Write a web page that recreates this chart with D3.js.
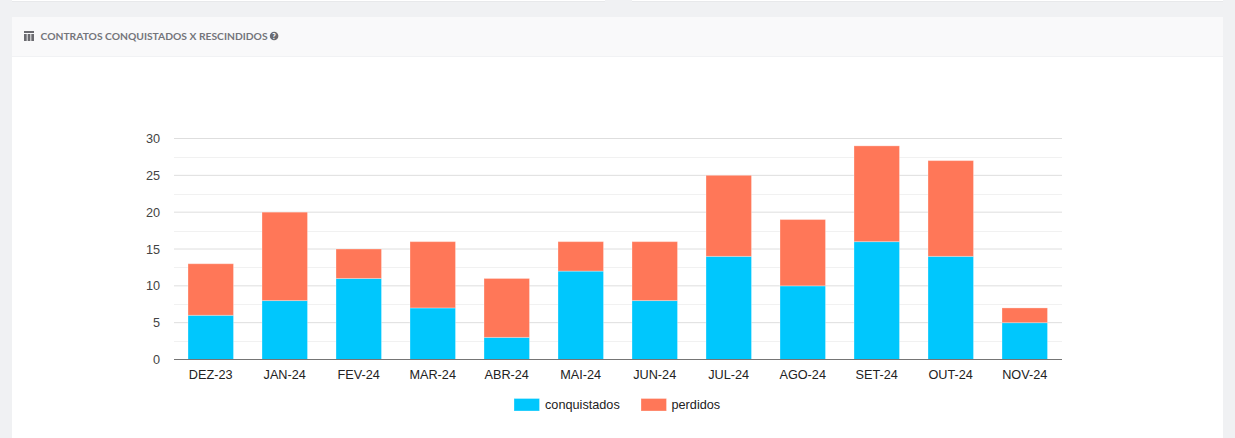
<!DOCTYPE html>
<html><head><meta charset="utf-8">
<script src="https://cdn.jsdelivr.net/npm/d3@7/dist/d3.min.js"></script>
<style>html,body{margin:0;padding:0;background:#f0f1f3;overflow:hidden}svg{display:block}</style>
</head><body><svg id="c" width="1235" height="438"></svg>
<script>
const categories=["DEZ-23","JAN-24","FEV-24","MAR-24","ABR-24","MAI-24","JUN-24","JUL-24","AGO-24","SET-24","OUT-24","NOV-24"];
const conquistados=[6,8,11,7,3,12,8,14,10,16,14,5];
const perdidos=[7,12,4,9,8,4,8,11,9,13,13,2];
const seriesNames=["conquistados","perdidos"];
const seriesColors=["#00c7fd","#ff7758"];
const majorTicks=[0,5,10,15,20,25,30];
const minorTicks=[2.5,7.5,12.5,17.5,22.5,27.5];
const titleText="CONTRATOS CONQUISTADOS X RESCINDIDOS";

const svg=d3.select("#c");
svg.append("rect").attr("x",12).attr("y",-10).attr("width",593).attr("height",11).attr("fill","#fff");
svg.append("rect").attr("x",12).attr("y",1).attr("width",593).attr("height",1).attr("fill","#e8e9eb");
svg.append("rect").attr("x",632).attr("y",-10).attr("width",591).attr("height",11).attr("fill","#fff");
svg.append("rect").attr("x",632).attr("y",1).attr("width",591).attr("height",1).attr("fill","#e8e9eb");
svg.append("rect").attr("x",12).attr("y",17).attr("width",1211).attr("height",430).attr("fill","#fff");
svg.append("rect").attr("x",12).attr("y",17).attr("width",1211).attr("height",39).attr("fill","#f9f9fa");
svg.append("rect").attr("x",12).attr("y",56).attr("width",1211).attr("height",1).attr("fill","#f1f2f4");
const ic=svg.append("g").attr("fill","#6b6b70");
[[24,31,10,2],[24,34,2.7,7],[27.65,34,2.7,7],[31.3,34,2.7,7]].forEach(r=>ic.append("rect").attr("x",r[0]).attr("y",r[1]).attr("width",r[2]).attr("height",r[3]));
const title=svg.append("text").attr("x",40.5).attr("y",39.5).attr("font-family","Lato").attr("font-size",10.3).attr("font-weight",700).attr("fill","#74757a").text(titleText);
const tw=title.node().getComputedTextLength();
const hx=40.5+tw+6.5;
svg.append("circle").attr("cx",hx).attr("cy",36).attr("r",4.3).attr("fill","#6b6c72");
svg.append("text").attr("x",hx).attr("y",38.7).attr("text-anchor","middle").attr("font-family","Lato").attr("font-size",7.5).attr("font-weight",900).attr("fill","#fff").text("?");

const x=d3.scaleBand().domain(categories).range([174,1062]).paddingInner(28/74).paddingOuter(14/74);
const y=d3.scaleLinear().domain([0,30]).range([359.5,138.5]);
const grid=svg.append("g");
minorTicks.forEach(t=>grid.append("line").attr("x1",174).attr("x2",1062).attr("y1",Math.round(y(t))+.5).attr("y2",Math.round(y(t))+.5).attr("stroke","#f1f1f1"));
majorTicks.slice(1).forEach(t=>grid.append("line").attr("x1",174).attr("x2",1062).attr("y1",y(t)).attr("y2",y(t)).attr("stroke","#dedede"));

const stack=d3.stack().keys(seriesNames)(categories.map((c,i)=>({c,conquistados:conquistados[i],perdidos:perdidos[i]})));
stack.forEach((s,k)=>{
  svg.append("g").selectAll("rect").data(s).join("rect")
    .attr("x",d=>x(d.data.c)).attr("width",x.bandwidth()-.5)
    .attr("y",d=>y(d[1])).attr("height",d=>y(d[0])-y(d[1]))
    .attr("fill",seriesColors[k]).attr("stroke","#fff").attr("stroke-opacity",.3).attr("stroke-width",1);
});
svg.append("line").attr("x1",174).attr("x2",1062).attr("y1",359.5).attr("y2",359.5).attr("stroke","#757575");

const axisFont="Liberation Sans";
svg.append("g").selectAll("text").data(majorTicks).join("text")
  .attr("x",160).attr("y",d=>y(d)+4.5).attr("text-anchor","end").attr("font-family",axisFont).attr("font-size",12.7).attr("fill","#444").text(d=>d);
svg.append("g").selectAll("text").data(categories).join("text")
  .attr("x",d=>x(d)+x.bandwidth()/2-.3).attr("y",379).attr("text-anchor","middle").attr("font-family",axisFont).attr("font-size",12.7).attr("fill","#222").text(d=>d);

const lg=svg.append("g");
[[514,545,0],[641,671.5,1]].forEach(([bx,tx,i])=>{
  lg.append("rect").attr("x",bx).attr("y",398.5).attr("width",25.5).attr("height",12.5).attr("fill",seriesColors[i]).attr("stroke","#fff").attr("stroke-opacity",.3);
  lg.append("text").attr("x",tx).attr("y",409).attr("font-family",axisFont).attr("font-size",12.7).attr("fill","#222").text(seriesNames[i]);
});
</script></body></html>
